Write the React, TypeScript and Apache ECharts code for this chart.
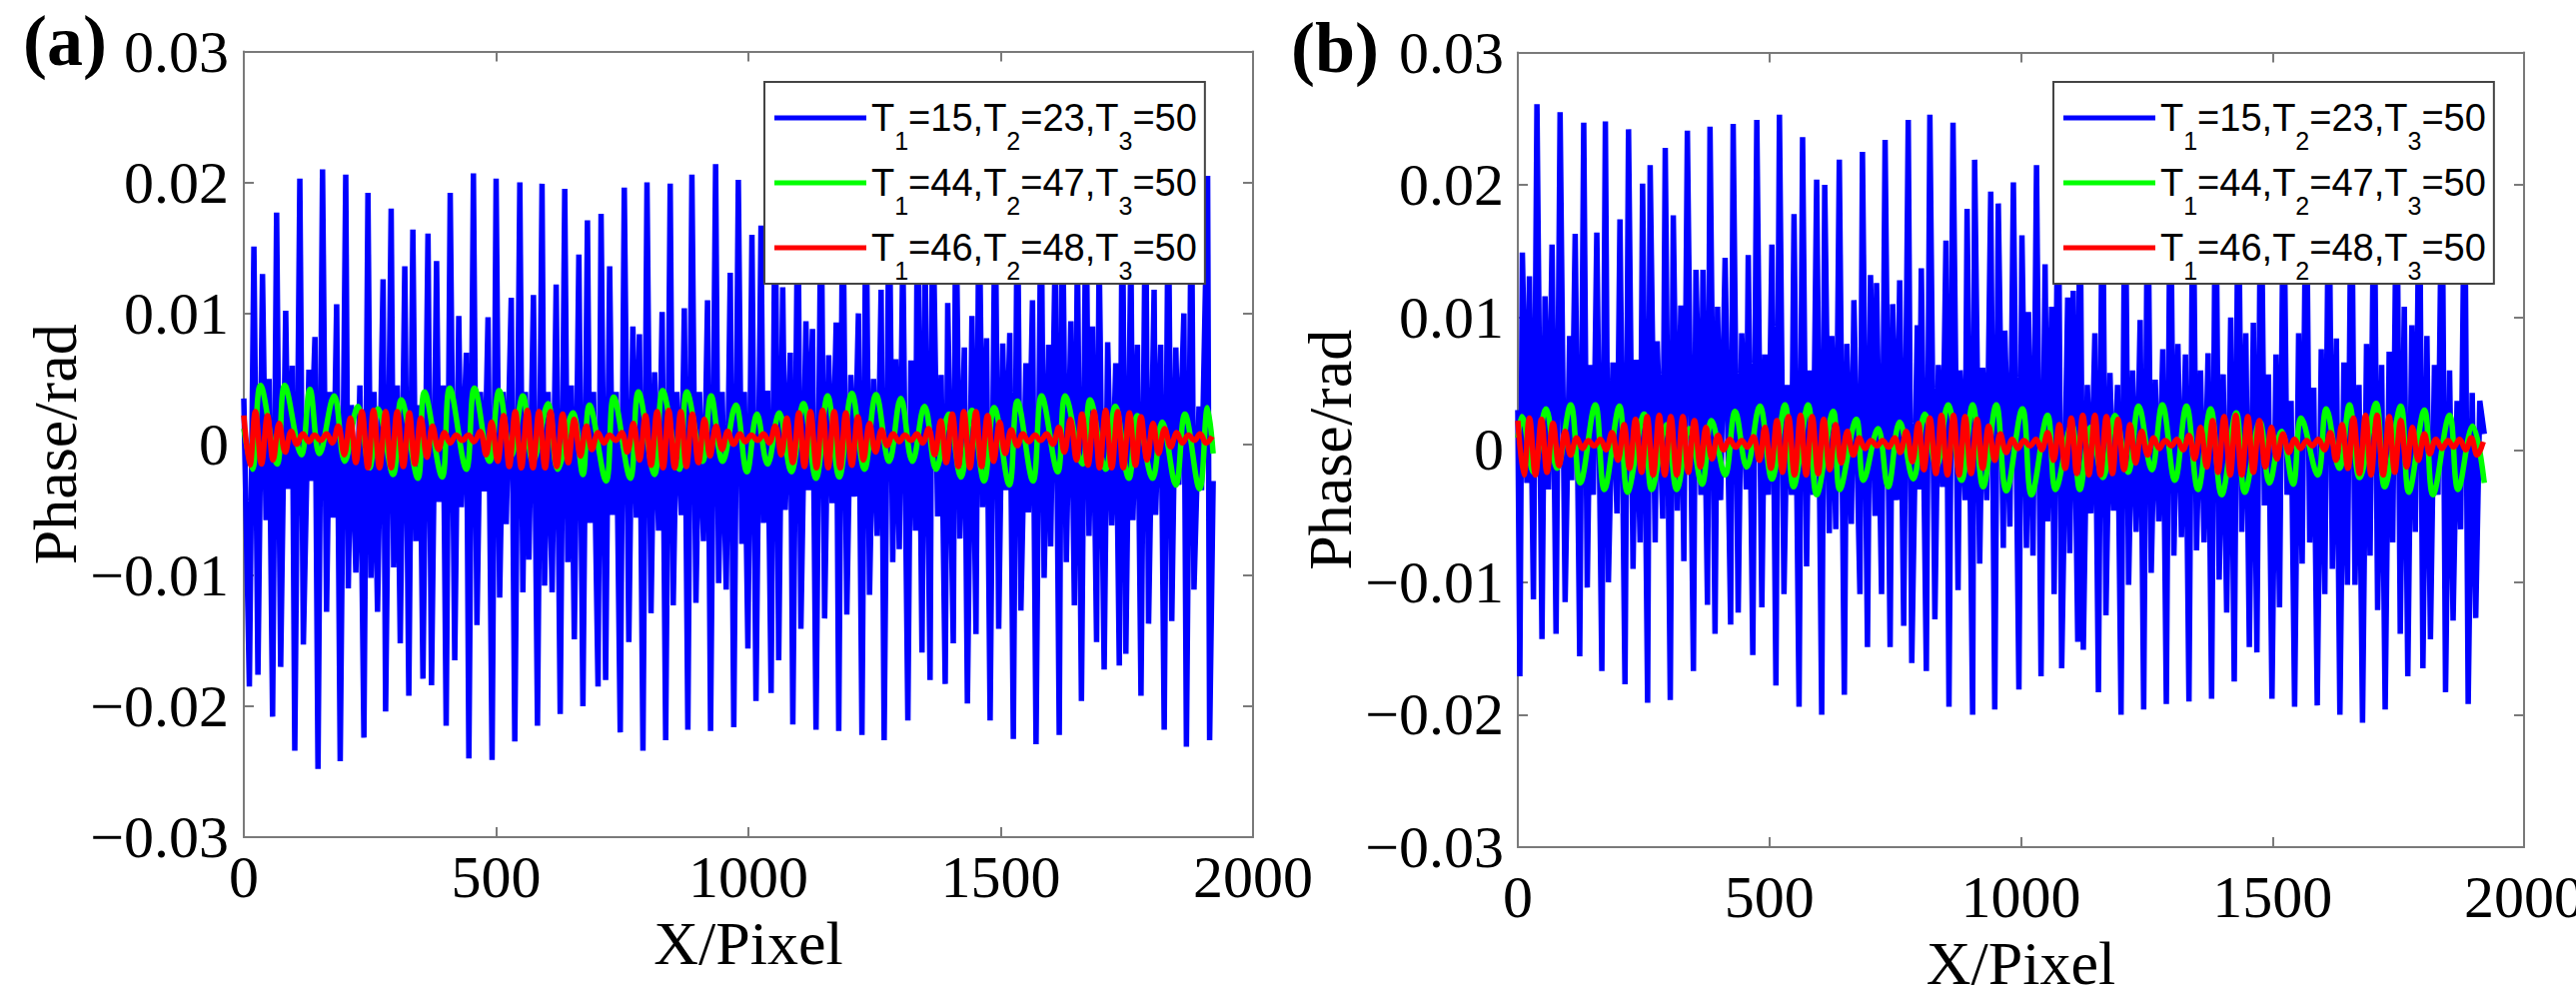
import { useEffect, useRef } from 'react';
import * as echarts from 'echarts';

// phase error traces, x in pixels, y in rad
const NAMES = ['T1=15,T2=23,T3=50', 'T1=44,T2=47,T3=50', 'T1=46,T2=48,T3=50'];
const COLORS = ['#0000ff', '#00ff00', '#ff0000'];
const X_TICKS = [0, 500, 1000, 1500, 2000];
const Y_TICKS = [-0.03, -0.02, -0.01, 0, 0.01, 0.02, 0.03];

// (a) T1=15,T2=23,T3=50
const blueA: number[][] = [
  [0, .0035], [11, -.0185], [20, .0151], [28, -.0176], [37, .013], [44, -.0058], [50, .005], [57, -.0208], [65, .0177], [73, -.017],
  [83, .0102], [88, -.0034], [96, .006], [101, -.0234], [111, .0203], [118, -.0153], [129, .0057], [132, -.0028], [141, .0082], [147, -.0248],
  [156, .021], [164, -.0128], [170, .004], [177, -.0056], [184, .0107], [191, -.0242], [202, .0206], [207, -.011], [213, .003], [222, -.0098],
  [230, .0045], [238, -.0224], [246, .0192], [252, -.0102], [258, .004], [265, -.0128], [276, .0126], [281, -.0204], [292, .018], [297, -.0094],
  [304, .0045], [310, -.0152], [319, .0136], [327, -.0192], [335, .0164], [341, -.0074], [349, .003], [355, -.0179], [365, .0161], [372, -.0184],
  [382, .014], [387, -.0044], [395, .0045], [401, -.0215], [409, .0192], [418, -.0165], [426, .0098], [431, -.0048], [441, .007], [446, -.024],
  [455, .0207], [462, -.0138], [469, .004], [477, -.0036], [484, .0097], [492, -.0241], [500, .0203], [507, -.0117], [514, .004], [520, -.0061],
  [530, .0112], [537, -.0227], [547, .02], [553, -.0113], [558, .004], [565, -.0088], [574, .0114], [582, -.0215], [591, .0199], [596, -.0108],
  [603, .004], [611, -.0113], [619, .0122], [627, -.0206], [636, .0195], [642, -.009], [649, .0045], [655, -.0149], [664, .0145], [672, -.02],
  [681, .0171], [686, -.006], [693, .004], [702, -.0185], [708, .0176], [717, -.018], [725, .0136], [731, -.0054], [738, .004], [746, -.022],
  [754, .0196], [763, -.0151], [771, .009], [778, -.0056], [784, .0084], [791, -.0234], [799, .02], [807, -.0129], [814, .0055], [822, -.0066],
  [829, .0101], [836, -.0226], [845, .0199], [851, -.0123], [858, .004], [867, -.0054], [873, .0104], [880, -.0218], [888, .0206], [896, -.0121],
  [903, .004], [911, -.0074], [919, .011], [925, -.0219], [935, .0214], [941, -.0106], [948, .004], [956, -.0111], [964, .0131], [971, -.0216],
  [980, .0202], [987, -.0076], [992, .004], [999, -.0156], [1007, .016], [1015, -.0196], [1025, .0167], [1030, -.006], [1038, .0041], [1045, -.019],
  [1053, .0205], [1060, -.0165], [1068, .012], [1073, -.005], [1083, .007], [1088, -.0214], [1098, .0205], [1104, -.0141], [1114, .0094], [1119, -.0035],
  [1127, .0088], [1134, -.0218], [1144, .0205], [1151, -.0133], [1159, .0068], [1166, -.0045], [1174, .0093], [1179, -.0219], [1187, .0205], [1195, -.013],
  [1203, .0053], [1210, -.004], [1218, .01], [1225, -.0222], [1233, .0205], [1240, -.0115], [1248, .005], [1255, -.007], [1263, .0118], [1269, -.0226],
  [1279, .0205], [1286, -.009], [1292, .0065], [1299, -.008], [1306, .015], [1316, -.0211], [1322, .0064], [1331, -.0066], [1335, .02], [1344, -.0159],
  [1350, .015], [1360, -.018], [1365, .02], [1375, -.0055], [1382, .0053], [1390, -.0183], [1395, .0108], [1406, -.0152], [1411, .0205], [1419, -.0072],
  [1428, .0074], [1434, -.0198], [1443, .0098], [1451, -.0145], [1457, .0205], [1464, -.0048], [1472, .0081], [1479, -.0211], [1489, .0205], [1496, -.0141],
  [1504, .0077], [1510, -.0035], [1518, .0085], [1525, -.0225], [1533, .0205], [1540, -.0127], [1550, .0062], [1555, -.0052], [1563, .011], [1570, -.0229],
  [1580, .0205], [1586, -.0102], [1595, .0076], [1599, -.0078], [1608, .015], [1616, -.0222], [1622, .0205], [1630, -.009], [1639, .0094], [1646, -.0123],
  [1652, .015], [1660, -.0196], [1669, .0205], [1675, -.007], [1682, .009], [1690, -.0151], [1695, .015], [1705, -.0172], [1712, .0078], [1720, -.0062],
  [1728, .0062], [1735, -.0169], [1741, .0205], [1748, -.016], [1758, .015], [1762, -.0058], [1771, .0076], [1778, -.0192], [1787, .0205], [1793, -.0137],
  [1804, .0118], [1807, -.0054], [1817, .0076], [1824, -.0218], [1832, .0205], [1839, -.0135], [1847, .0074], [1853, -.0031], [1863, .01], [1868, -.0231],
  [1878, .0205], [1883, -.0111], [1893, .0029], [1898, -.0035], [1910, .0205], [1914, -.0226], [1921, -.0028],
];

// (a) T1=44,T2=47,T3=50
const greenA: number[][] = [
  [0, .0012], [17, -.0019], [33, .0045], [66, -.0015], [81, .0045], [114, -.0008], [131, .0042], [150, -.0007], [179, .0037], [200, -.0013],
  [226, .0029], [249, -.0018], [266, .0027], [296, -.0023], [312, .0034], [345, -.0026], [358, .004], [393, -.0025], [408, .0043], [441, -.0019],
  [457, .0043], [487, -.0013], [506, .0041], [530, -.0009], [553, .0037], [573, -.0013], [603, .0031], [622, -.0019], [652, .0024], [672, -.0023],
  [685, .003], [718, -.0028], [733, .0036], [766, -.0026], [782, .004], [814, -.0023], [830, .0041], [863, -.0019], [878, .004], [909, -.0013],
  [926, .0037], [949, -.0013], [975, .003], [997, -.0021], [1017, .0023], [1038, -.0015], [1061, .0024], [1085, -.0021], [1109, .0031], [1134, -.0026],
  [1157, .0037], [1180, -.0025], [1205, .0039], [1230, -.0019], [1253, .0038], [1279, -.0013], [1302, .0035], [1325, -.0013], [1349, .0029], [1372, -.0019],
  [1397, .0023], [1421, -.0025], [1443, .0026], [1467, -.0028], [1487, .0028], [1517, -.0031], [1533, .0033], [1564, -.0028], [1581, .0037], [1613, -.0021],
  [1628, .0037], [1662, -.0015], [1677, .0034], [1708, -.0019], [1727, .0029], [1754, -.0026], [1771, .0022], [1801, -.0026], [1820, .0017], [1847, -.0031],
  [1865, .0023], [1894, -.0034], [1910, .0028], [1921, -.0007],
];

// sample positions of the two red traces
const redX = [
  0, 12, 23, 35, 47, 58, 70, 82, 94, 105, 117, 129, 140, 152, 164, 175, 187, 199, 211, 222,
  234, 246, 257, 269, 281, 292, 304, 316, 328, 339, 351, 363, 374, 386, 398, 409, 421, 433, 445, 456,
  468, 480, 491, 503, 515, 526, 538, 550, 562, 573, 585, 597, 608, 620, 632, 643, 655, 667, 679, 690,
  702, 714, 725, 737, 749, 760, 772, 784, 796, 807, 819, 831, 842, 854, 866, 877, 889, 901, 913, 924,
  936, 948, 959, 971, 983, 994, 1006, 1018, 1030, 1041, 1053, 1065, 1076, 1088, 1100, 1111, 1123, 1135, 1147, 1158,
  1170, 1182, 1193, 1205, 1217, 1228, 1240, 1252, 1264, 1275, 1287, 1299, 1310, 1322, 1334, 1345, 1357, 1369, 1381, 1392,
  1404, 1416, 1427, 1439, 1451, 1462, 1474, 1486, 1498, 1509, 1521, 1533, 1544, 1556, 1568, 1579, 1591, 1603, 1615, 1626,
  1638, 1650, 1661, 1673, 1685, 1696, 1708, 1720, 1732, 1743, 1755, 1767, 1778, 1790, 1802, 1813, 1825, 1837, 1849, 1860,
  1872, 1884, 1895, 1907, 1919,
];

// (a) T1=46,T2=48,T3=50
const redA = [
  .0022, -.0016, .0025, -.0015, .0022, -.0012, .0016, -.0006, .001, 0, .0008, .0002, .0007, .0003, .0008, .0001, .0014, -.0008, .002, -.0014,
  .0025, -.0018, .0026, -.0018, .0025, -.0018, .0025, -.0017, .0024, -.0015, .002, -.001, .0014, -.0004, .0009, .0001, .0007, .0003, .0007, .0002,
  .001, -.0008, .0017, -.0013, .0022, -.0017, .0025, -.0018, .0026, -.0018, .0025, -.0018, .0025, -.0017, .0023, -.0014, .0019, -.0009, .0014, -.0004,
  .0009, .0001, .0007, .0003, .0009, -.0006, .0016, -.0012, .0022, -.0016, .0025, -.0018, .0026, -.0018, .0025, -.0017, .0023, -.0014, .0019, -.0009,
  .0014, -.0004, .001, 0, .0008, .0002, .0007, .0003, .0008, .0001, .0014, -.0008, .002, -.0014, .0024, -.0017, .0025, -.0018, .0026, -.0018,
  .0025, -.0018, .0024, -.0016, .0021, -.0012, .0016, -.0006, .0011, -.0001, .0008, .0002, .0007, .0003, .0008, .0001, .0012, -.0008, .0018, -.0014,
  .0023, -.0017, .0025, -.0018, .0025, -.0017, .0022, -.0013, .0017, -.0007, .0011, -.0001, .0008, .0002, .0007, .0003, .0008, 0, .0013, -.0006,
  .0019, -.0012, .0023, -.0016, .0025, -.0018, .0026, -.0018, .0025, -.0018, .0024, -.0016, .0021, -.0012, .0016, -.0007, .0012, -.0002, .0009, .0001,
  .0007, .0003, .0008, .0001, .0006,
];

// (b) T1=15,T2=23,T3=50
const blueB: number[][] = [
  [0, .003], [4, -.0171], [9, .0149], [18, -.0025], [23, .0131], [31, -.0113], [38, .0261], [48, -.0143], [54, .0116], [61, -.003],
  [68, .0155], [76, -.0139], [84, .0255], [94, -.0115], [103, .0086], [107, -.0023], [114, .0163], [123, -.0156], [131, .0247], [138, -.0104],
  [144, .0064], [150, -.0034], [157, .0164], [167, -.0167], [174, .0248], [180, -.01], [189, .0066], [197, -.0048], [203, .0174], [213, -.0177],
  [220, .0242], [229, -.009], [235, .0068], [243, -.007], [248, .0201], [258, -.0191], [263, .0215], [273, -.007], [277, .0082], [288, -.0052],
  [293, .0228], [303, -.0189], [309, .0177], [317, -.0046], [324, .0109], [330, -.0084], [337, .0241], [349, -.0167], [354, .0136], [364, -.0034],
  [368, .0136], [377, -.0117], [382, .0244], [392, -.0139], [397, .0108], [403, -.0038], [412, .0145], [423, -.0132], [428, .0246], [438, -.0123],
  [445, .0088], [454, -.003], [458, .0147], [467, -.0155], [475, .0249], [485, -.0119], [491, .0072], [498, -.0034], [505, .0155], [513, -.0178],
  [520, .0253], [529, -.0109], [536, .0049], [544, -.0034], [549, .0178], [559, -.0194], [566, .0236], [574, -.0088], [579, .006], [587, -.0034],
  [594, .0204], [604, -.02], [610, .02], [619, -.0063], [624, .0086], [632, -.006], [639, .0219], [649, -.0185], [654, .008], [663, -.0056],
  [668, .0113], [680, -.0109], [685, .0225], [695, -.0149], [701, .0132], [710, -.005], [713, .0126], [723, -.0109], [730, .0234], [740, -.0149],
  [745, .011], [753, -.0038], [759, .0128], [767, -.0133], [776, .0249], [783, -.0161], [794, .0094], [798, -.003], [802, .0137], [812, -.0167],
  [819, .0253], [829, -.0128], [836, .0064], [844, -.0028], [851, .0158], [857, -.0194], [865, .0247], [875, -.0106], [879, .006], [889, -.0038],
  [893, .0182], [904, -.02], [908, .0219], [918, -.0086], [924, .0062], [932, -.0038], [940, .0195], [948, -.0196], [955, .0186], [965, -.0074],
  [968, .009], [978, -.0058], [985, .0202], [996, -.0181], [1002, .0162], [1011, -.0074], [1015, .0104], [1024, -.008], [1031, .0215], [1040, -.0171],
  [1048, .014], [1053, -.0054], [1061, .0108], [1066, -.0109], [1074, .0235], [1081, -.0165], [1093, .0115], [1097, -.0078], [1104, .012], [1113, -.0145],
  [1117, .0235], [1124, -.0151], [1132, .0049], [1139, -.0048], [1147, .0088], [1154, -.0183], [1162, .023], [1169, -.0125], [1177, .0058], [1184, -.0046],
  [1192, .0049], [1199, -.02], [1207, .0238], [1214, -.0102], [1222, .006], [1229, -.0062], [1237, .0098], [1244, -.0196], [1252, .0228], [1259, -.0093],
  [1267, .0053], [1274, -.0054], [1282, .0076], [1289, -.0192], [1297, .0235], [1304, -.008], [1312, .008], [1319, -.0066], [1327, .0072], [1334, -.019],
  [1342, .0225], [1349, -.0076], [1357, .006], [1364, -.007], [1372, .0073], [1379, -.0188], [1387, .0232], [1394, -.0098], [1402, .0057], [1409, -.0123],
  [1417, .01], [1424, -.0175], [1432, .0226], [1439, -.0062], [1447, .0088], [1454, -.0149], [1462, .0096], [1469, -.0153], [1477, .0236], [1484, -.0042],
  [1492, .0057], [1499, -.0188], [1507, .0072], [1514, -.0119], [1522, .0224], [1529, -.0034], [1537, .0037], [1544, -.0194], [1552, .0088], [1559, -.0086],
  [1567, .0232], [1574, -.007], [1582, .0047], [1589, -.0193], [1597, .0076], [1604, -.0109], [1612, .0228], [1619, -.009], [1627, .0084], [1634, -.02],
  [1642, .0066], [1649, -.0102], [1657, .0234], [1664, -.0102], [1672, .0049], [1679, -.0206], [1687, .008], [1694, -.008], [1702, .0226], [1709, -.0121],
  [1717, .0064], [1724, -.0196], [1732, .0074], [1739, -.007], [1747, .0232], [1754, -.0139], [1762, .0108], [1769, -.0171], [1777, .0094], [1784, -.0062],
  [1792, .0225], [1799, -.0165], [1807, .0086], [1814, -.0143], [1822, .0064], [1829, -.0034], [1837, .0228], [1844, -.0183], [1852, .006], [1859, -.0129],
  [1867, .0037], [1874, -.006], [1882, .0222], [1889, -.0192], [1897, .0043], [1904, -.0127], [1912, .0037], [1921, .0012],
];

// (b) T1=44,T2=47,T3=50
const greenB: number[][] = [
  [0, .0009], [8, .0025], [31, -.0017], [56, .0031], [78, -.0014], [105, .0034], [124, -.0025], [154, .0034], [172, -.003], [202, .0033],
  [218, -.0032], [251, .0027], [266, -.003], [296, .0019], [316, -.003], [341, .0016], [366, -.0026], [385, .0022], [412, -.0019], [432, .0029],
  [455, -.0013], [481, .0033], [505, -.0022], [531, .0034], [548, -.0028], [577, .0034], [594, -.0034], [627, .0029], [640, -.003], [673, .0023],
  [687, -.0023], [716, .0016], [736, -.0028], [759, .0021], [786, -.0022], [809, .0027], [832, -.0013], [855, .0034], [882, -.0023], [904, .0034],
  [925, -.0028], [951, .0034], [971, -.0031], [1003, .0031], [1021, -.0034], [1053, .0026], [1069, -.003], [1101, .0019], [1117, -.003], [1139, .0017],
  [1163, -.0021], [1187, .0026], [1213, -.0017], [1234, .0033], [1260, -.0015], [1281, .0034], [1306, -.0023], [1329, .0033], [1352, -.003], [1377, .0031],
  [1399, -.0034], [1428, .0028], [1445, -.0032], [1475, .0021], [1494, -.0025], [1518, .0014], [1541, -.0026], [1557, .0024], [1590, -.0019], [1607, .0031],
  [1633, -.0014], [1653, .0034], [1673, -.0021], [1706, .0035], [1723, -.0028], [1755, .0033], [1771, -.0032], [1802, .003], [1819, -.0034], [1852, .0026],
  [1869, -.003], [1898, .0018], [1921, -.0025],
];

// (b) T1=46,T2=48,T3=50
const redB = [
  .0022, -.0019, .0024, -.0019, .0023, -.0017, .002, -.0012, .0014, -.0004, .0009, .0001, .0007, .0003, .0008, 0, .0013, -.0008, .0019, -.0014,
  .0023, -.0017, .0025, -.0019, .0026, -.0019, .0025, -.0019, .0025, -.0017, .0022, -.0013, .0017, -.0007, .0011, 0, .0008, .0002, .0007, .0002,
  .001, -.0008, .0017, -.0014, .0022, -.0017, .0025, -.0019, .0026, -.0019, .0025, -.0018, .0023, -.0015, .0019, -.001, .0014, -.0004, .0009, .0001,
  .0007, .0003, .0007, .0002, .0009, -.0002, .0014, -.0009, .002, -.0015, .0024, -.0018, .0026, -.0019, .0026, -.0019, .0025, -.0018, .0023, -.0014,
  .0018, -.0008, .0012, -.0002, .0008, .0001, .0007, .0003, .0008, 0, .0013, -.0008, .0019, -.0014, .0024, -.0018, .0026, -.0019, .0026, -.0019,
  .0025, -.0018, .0023, -.0015, .0019, -.001, .0014, -.0004, .0009, .0001, .0007, .0003, .0008, 0, .0011, -.0007, .0017, -.0013, .0022, -.0017,
  .0025, -.0019, .0026, -.0019, .0025, -.0017, .0022, -.0013, .0017, -.0007, .0012, -.0002, .0008, .0001, .0007, .0003, .0008, 0, .0013, -.0008,
  .0019, -.0014, .0024, -.0018, .0026, -.0019, .0026, -.0019, .0025, -.0017, .0022, -.0013, .0017, -.0008, .0012, -.0003, .0008, .0001, .0007, .0002,
  .0008, 0, .0009, -.0004, .0006,
];

const AXIS_COLOR = '#7a7a7a';
const SERIF = '"Liberation Serif", "Times New Roman", serif';
const SANS = '"Liberation Sans", Arial, sans-serif';

const fmtY = (v: number) => (Math.abs(v) < 1e-9 ? '0' : (v < 0 ? '\u2212' : '') + Math.abs(v).toFixed(2));

function xAxis(grid: number, position: 'bottom' | 'top', labels: boolean, labelMargin = 0, nameGap = 0) {
  const axis: Record<string, unknown> = {
    type: 'value',
    gridIndex: grid,
    position,
    min: X_TICKS[0],
    max: X_TICKS[X_TICKS.length - 1],
    interval: X_TICKS[1] - X_TICKS[0],
    axisLine: { show: true, onZero: false, lineStyle: { color: AXIS_COLOR, width: 2 } },
    axisTick: { show: true, inside: true, length: 10, lineStyle: { color: AXIS_COLOR, width: 2 } },
    axisLabel: { show: labels, margin: labelMargin, fontFamily: SERIF, fontSize: 60, color: '#000', formatter: (v: number) => String(v) },
    splitLine: { show: false },
  };
  if (labels) {
    axis.name = 'X/Pixel';
    axis.nameLocation = 'middle';
    axis.nameGap = nameGap;
    axis.nameTextStyle = { fontFamily: SERIF, fontSize: 62, color: '#000' };
  }
  return axis;
}

function yAxis(grid: number, position: 'left' | 'right', labels: boolean, labelMargin = 0, nameGap = 0) {
  const axis: Record<string, unknown> = {
    type: 'value',
    gridIndex: grid,
    position,
    min: Y_TICKS[0],
    max: Y_TICKS[Y_TICKS.length - 1],
    interval: 0.01,
    axisLine: { show: true, onZero: false, lineStyle: { color: AXIS_COLOR, width: 2 } },
    axisTick: { show: true, inside: true, length: 10, lineStyle: { color: AXIS_COLOR, width: 2 } },
    axisLabel: { show: labels, margin: labelMargin, fontFamily: SERIF, fontSize: 60, color: '#000', formatter: fmtY },
    splitLine: { show: false },
  };
  if (labels) {
    axis.name = 'Phase/rad';
    axis.nameLocation = 'middle';
    axis.nameGap = nameGap;
    axis.nameTextStyle = { fontFamily: SERIF, fontSize: 62, color: '#000' };
  }
  return axis;
}

function line(name: string, color: string, data: number[][], axis: number, smooth: number | boolean) {
  return {
    name,
    type: 'line',
    xAxisIndex: axis,
    yAxisIndex: axis,
    data,
    smooth,
    symbol: 'none',
    showSymbol: false,
    silent: true,
    lineStyle: { color, width: 5.5 },
    itemStyle: { color },
    emphasis: { disabled: true },
  };
}

function legend(left: number) {
  return {
    data: NAMES,
    orient: 'vertical',
    left,
    top: 82,
    selectedMode: false,
    icon: 'rect',
    itemWidth: 92,
    itemHeight: 5,
    itemGap: -5,
    padding: [1, 8, 1, 10],
    backgroundColor: '#fff',
    borderColor: '#444',
    borderWidth: 2,
    formatter: (n: string) => n.replace(/T(\d)/g, 'T{s|$1}'),
    textStyle: {
      fontFamily: SANS,
      fontSize: 38,
      lineHeight: 70,
      color: '#000',
      rich: { s: { fontFamily: SANS, fontSize: 25, lineHeight: 25, verticalAlign: 'bottom', color: '#000' } },
    },
  };
}

export default function App() {
  const chartRef = useRef<HTMLDivElement>(null);

  useEffect(() => {
    document.body.style.margin = '0';
    if (!chartRef.current) return;
    const chart = echarts.init(chartRef.current, null, { renderer: 'svg' });
    const toPairs = (ys: number[]) => redX.map((x, i) => [x, ys[i]]);

    chart.setOption({
      animation: false,
      backgroundColor: '#fff',
      grid: [
        { left: 244, top: 51.5, width: 1010, height: 786.5, outerBoundsMode: 'none' },
        { left: 1519, top: 52.5, width: 1007, height: 795.5, outerBoundsMode: 'none' },
      ],
      xAxis: [xAxis(0, 'bottom', true, 10, 71), xAxis(0, 'top', false), xAxis(1, 'bottom', true, 20, 81), xAxis(1, 'top', false)],
      yAxis: [yAxis(0, 'left', true, 15, 138), yAxis(0, 'right', false), yAxis(1, 'left', true, 14, 132), yAxis(1, 'right', false)],
      legend: [legend(765), legend(2055)],
      graphic: [
        { type: 'text', left: 23, top: 5, style: { text: '(a)', font: `bold 72px ${SERIF}`, fill: '#000' } },
        { type: 'text', left: 1292, top: 12, style: { text: '(b)', font: `bold 72px ${SERIF}`, fill: '#000' } },
      ],
      series: [
        line(NAMES[0], COLORS[0], blueA, 0, false),
        line(NAMES[1], COLORS[1], greenA, 0, 0.4),
        line(NAMES[2], COLORS[2], toPairs(redA), 0, 0.4),
        line(NAMES[0], COLORS[0], blueB, 2, false),
        line(NAMES[1], COLORS[1], greenB, 2, 0.4),
        line(NAMES[2], COLORS[2], toPairs(redB), 2, 0.4),
      ],
    });

    return () => chart.dispose();
  }, []);

  return <div ref={chartRef} style={{ width: 2578, height: 1001 }} />;
}
